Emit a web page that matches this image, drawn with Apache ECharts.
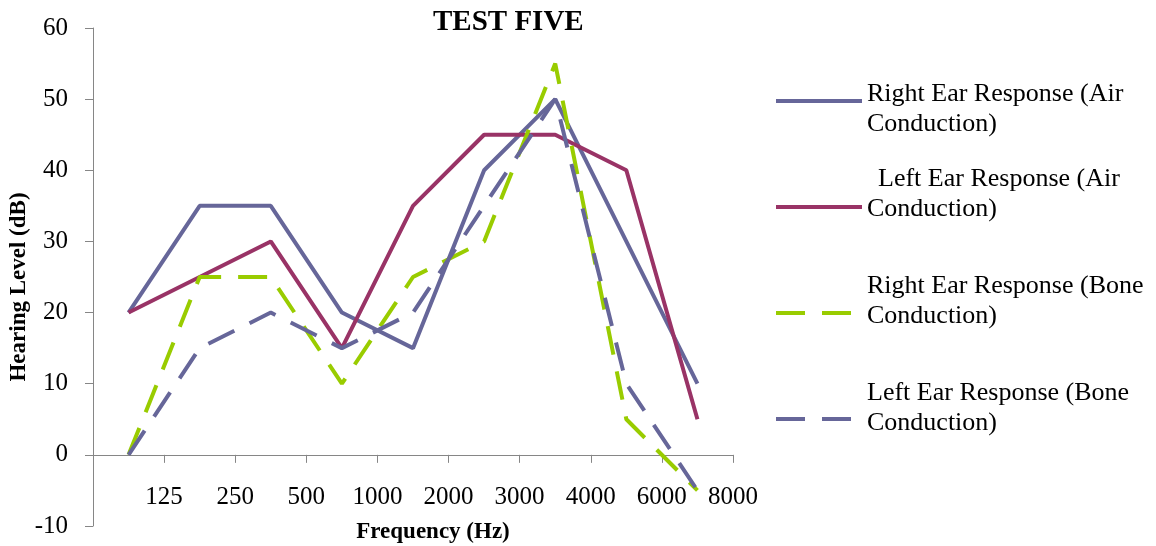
<!DOCTYPE html>
<html>
<head>
<meta charset="utf-8">
<title>Test Five</title>
<script src="https://cdn.jsdelivr.net/npm/echarts@6/dist/echarts.min.js"></script>
<style>
    html, body { margin: 0; padding: 0; background: #fff; }
    #main { width: 1156px; height: 546px; }
</style>
</head>
<body>
<div id="main"></div>
<script>
// Chart data
const frequencies = ['125', '250', '500', '1000', '2000', '3000', '4000', '6000', '8000'];
const rightAir = [20, 35, 35, 20, 15, 40, 50, 30, 10];
const leftAir = [20, 25, 30, 15, 35, 45, 45, 40, 5];
const rightBone = [0, 25, 25, 10, 25, 30, 55, 5, -5];
const leftBone = [0, 15, 20, 15, 20, 35, 50, 10, -5];
const seriesNames = [
    'Right Ear Response (Air Conduction)',
    'Left Ear Response (Air Conduction)',
    'Right Ear Response (Bone Conduction)',
    'Left Ear Response (Bone Conduction)'
];
const yMin = -10;
const yMax = 60;
const yStep = 10;

const serif = "'Liberation Serif', 'Times New Roman', serif";
const axisGray = '#868686';
const gridHeight = 498;

var chartDom = document.getElementById('main');
var myChart = echarts.init(chartDom);

// One legend box per entry; an empty spacer line nudges the text off the icon centre
function legendBox(name, top, spacerHeight, spacerFirst, indentFirst) {
    return {
        data: [name],
        orient: 'vertical',
        left: 774,
        top: top,
        padding: 0,
        itemWidth: 86,
        itemHeight: 14,
        itemStyle: { opacity: 0 },
        lineStyle: { width: 4 },
        formatter: function (n) {
            const parts = n.split(' Conduction');
            const first = indentFirst ? '{ti|' + parts[0] + '}' : '{t|' + parts[0] + '}';
            const lines = first + '\n{t|Conduction' + parts[1] + '}';
            return spacerFirst ? '{s| }\n' + lines : lines + '\n{s| }';
        },
        textStyle: {
            color: '#000',
            rich: {
                t: {
                    fontFamily: serif,
                    fontSize: 26,
                    lineHeight: 30,
                    color: '#000'
                },
                ti: {
                    fontFamily: serif,
                    fontSize: 26,
                    lineHeight: 30,
                    color: '#000',
                    padding: [0, 0, 0, 11]
                },
                s: {
                    fontSize: 2,
                    lineHeight: spacerHeight
                }
            }
        }
    };
}

function lineSeries(name, data, color, dashed) {
    return {
        name: name,
        type: 'line',
        data: data,
        symbol: 'none',
        color: color,
        lineStyle: {
            color: color,
            width: 4,
            type: dashed ? [29, 17] : 'solid',
            cap: 'butt'
        }
    };
}

const option = {
    animation: false,
    title: {
        text: 'TEST FIVE',
        left: 433,
        top: 8,
        padding: 0,
        textStyle: {
            fontFamily: serif,
            fontSize: 29,
            fontWeight: 'bold',
            color: '#000'
        }
    },
    legend: [
        legendBox(seriesNames[0], 70, 16, true, false),
        legendBox(seriesNames[1], 166, 26, false, true),
        legendBox(seriesNames[2], 273, 24, false, false),
        legendBox(seriesNames[3], 380, 22, false, false)
    ],
    grid: {
        left: 93,
        top: 28,
        width: 640,
        height: gridHeight,
        containLabel: false,
        outerBoundsMode: 'none'
    },
    xAxis: {
        type: 'category',
        data: frequencies,
        boundaryGap: true,
        // the category axis crosses the value axis at 0
        offset: -gridHeight * (0 - yMin) / (yMax - yMin),
        name: 'Frequency (Hz)',
        nameLocation: 'middle',
        nameGap: 66,
        nameMoveOverlap: false,
        nameTextStyle: {
            fontFamily: serif,
            fontSize: 23,
            fontWeight: 'bold',
            color: '#000',
            padding: [0, 0, 0, 40]
        },
        axisLine: { onZero: false, lineStyle: { color: axisGray, width: 1 } },
        axisTick: {
            show: true,
            interval: 0,
            alignWithLabel: false,
            length: 8,
            lineStyle: { color: axisGray, width: 1 }
        },
        axisLabel: {
            interval: 0,
            margin: 30,
            fontFamily: serif,
            fontSize: 25,
            color: '#000',
            // labels sit on the band boundaries, half a band to the right
            padding: [0, 0, 0, 71]
        },
        splitLine: { show: false }
    },
    yAxis: {
        type: 'value',
        min: yMin,
        max: yMax,
        interval: yStep,
        name: 'Hearing Level (dB)',
        nameLocation: 'middle',
        nameGap: 62,
        nameMoveOverlap: false,
        nameTextStyle: {
            fontFamily: serif,
            fontSize: 23,
            fontWeight: 'bold',
            color: '#000',
            padding: [0, 20, 0, 0]
        },
        axisLine: { show: true, lineStyle: { color: axisGray, width: 1 } },
        axisTick: { show: true, length: 8, lineStyle: { color: axisGray } },
        axisLabel: {
            margin: 25,
            fontFamily: serif,
            fontSize: 25,
            color: '#000'
        },
        splitLine: { show: false }
    },
    series: [
        lineSeries(seriesNames[0], rightAir, '#666699', false),
        lineSeries(seriesNames[1], leftAir, '#993366', false),
        lineSeries(seriesNames[2], rightBone, '#99CC00', true),
        lineSeries(seriesNames[3], leftBone, '#666699', true)
    ]
};

option && myChart.setOption(option);
</script>
</body>
</html>
